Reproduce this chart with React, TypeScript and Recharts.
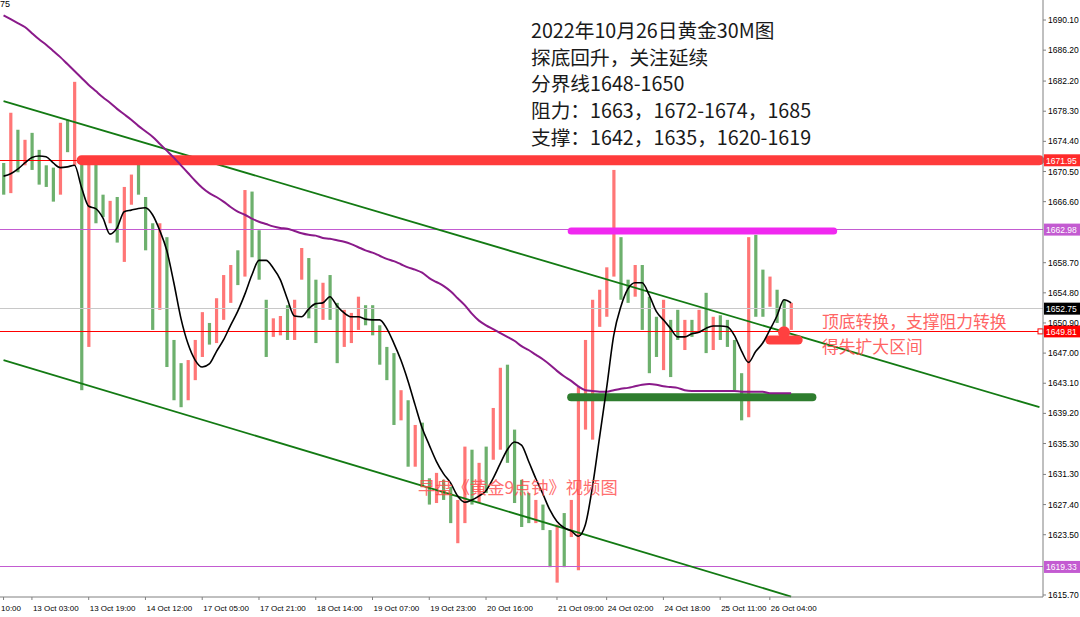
import {
  ComposedChart,
  Bar,
  Line,
  XAxis,
  YAxis,
  ReferenceLine,
  ReferenceDot,
} from "recharts"

// 2-hour bars (high / low, U = up bar, D = down bar)
const HIGH = [
  1671.6, 1678.1, 1675.9, 1674.6, 1675.5, 1673.3, 1671.3, 1671.0, 1676.8, 1677.2,
  1682.1, 1672.0, 1671.6, 1672.0, 1667.5, 1666.7, 1667.2, 1668.5, 1670.1, 1671.6,
  1667.2, 1663.8, 1663.8, 1662.0, 1648.7, 1645.7, 1646.1, 1648.7, 1652.3, 1650.9,
  1654.1, 1657.1, 1658.4, 1660.3, 1668.1, 1667.9, 1662.9, 1653.9, 1651.5, 1651.8,
  1653.2, 1653.9, 1660.6, 1659.3, 1656.5, 1656.1, 1657.1, 1653.5, 1652.6, 1652.2,
  1654.3, 1653.2, 1653.2, 1650.6, 1647.8, 1647.0, 1642.2, 1640.9, 1637.7, 1638.0,
  1630.8, 1631.5, 1630.6, 1629.7, 1628.0, 1634.9, 1634.5, 1632.8, 1634.9, 1639.9,
  1645.1, 1645.5, 1637.1, 1630.6, 1628.9, 1628.0, 1627.4, 1624.1, 1624.8, 1626.3,
  1628.0, 1642.6, 1648.7, 1653.9, 1655.2, 1658.1, 1670.7, 1662.0, 1656.5, 1658.4,
  1658.4, 1654.3, 1651.7, 1653.9, 1651.3, 1652.6, 1651.3, 1651.3, 1652.6, 1654.8,
  1651.7, 1651.9, 1651.3, 1648.7, 1644.4, 1662.0, 1662.3, 1657.8, 1656.9, 1655.2,
  1653.9, 1653.5,
]
const LOW = [
  1667.5, 1667.7, 1670.4, 1671.3, 1670.7, 1668.8, 1668.5, 1666.6, 1667.5, 1673.0,
  1671.3, 1642.2, 1647.8, 1663.8, 1664.6, 1663.8, 1661.3, 1658.8, 1666.2, 1667.5,
  1660.3, 1650.0, 1652.6, 1645.2, 1640.9, 1640.0, 1640.9, 1643.5, 1646.5, 1648.1,
  1648.3, 1651.3, 1653.5, 1655.8, 1656.9, 1659.4, 1656.5, 1646.5, 1649.1, 1649.3,
  1648.7, 1648.7, 1656.5, 1651.5, 1648.3, 1651.3, 1651.3, 1645.7, 1647.8, 1648.3,
  1650.0, 1650.6, 1649.3, 1645.5, 1643.5, 1637.7, 1638.3, 1632.3, 1632.3, 1629.7,
  1627.4, 1627.6, 1628.0, 1625.0, 1622.4, 1625.0, 1627.4, 1627.6, 1628.9, 1633.2,
  1634.5, 1632.8, 1627.6, 1624.5, 1625.0, 1625.0, 1624.1, 1619.3, 1617.3, 1619.3,
  1623.2, 1618.9, 1637.1, 1635.8, 1650.4, 1651.7, 1656.9, 1653.9, 1653.5, 1654.3,
  1650.0, 1644.4, 1646.5, 1644.8, 1643.9, 1648.7, 1647.4, 1649.1, 1649.6, 1647.0,
  1647.4, 1648.7, 1647.8, 1642.2, 1638.3, 1638.7, 1651.7, 1651.7, 1653.0, 1650.9,
  1650.4, 1650.0,
]
const DIRS =
  "DUDUDDDDUD" + "UDUDDUDUUD" + "DDUDDDUUUD" + "UUUDUDDDUU" + "DUUDDUDDUU" +
  "UDDDDDUDUD" + "DUDDUUDUDU" + "UDDDDUDDUD" + "UUUUUUUDDU" + "DDDUDDUDUD" +
  "UDDDDUDDUD" + "DU"

// black fast MA and purple slow MA
const MA_FAST = [
  1669.9, 1670.2, 1670.8, 1671.6, 1672.3, 1672.5, 1672.4, 1671.6, 1671.0, 1671.1,
  1671.3, 1668.4, 1666.0, 1665.7, 1664.5, 1662.4, 1663.2, 1665.3, 1665.5, 1665.7,
  1665.8, 1664.9, 1662.9, 1660.3, 1656.1, 1651.5, 1648.2, 1646.1, 1645.2, 1645.6,
  1647.2, 1648.7, 1650.6, 1652.4, 1654.6, 1657.1, 1659.0, 1659.0, 1658.0, 1656.5,
  1654.0, 1651.8, 1651.7, 1652.7, 1653.4, 1653.5, 1654.3, 1653.1, 1652.2, 1651.7,
  1651.7, 1651.4, 1651.3, 1651.3, 1650.2, 1648.3, 1646.1, 1643.4, 1640.3, 1637.3,
  1635.1, 1633.0, 1631.4, 1630.2, 1628.5, 1627.7, 1628.0, 1628.5, 1629.2, 1630.8,
  1632.7, 1634.5, 1635.5, 1635.1, 1633.0, 1630.8, 1628.8, 1626.7, 1625.2, 1624.4,
  1624.0, 1623.3, 1624.8, 1629.7, 1636.1, 1642.5, 1649.3, 1653.0, 1655.3, 1656.1,
  1656.1, 1654.5, 1652.4, 1651.3, 1650.2, 1649.1, 1649.1, 1649.5, 1649.7, 1650.2,
  1650.5, 1650.5, 1650.4, 1649.3, 1647.3, 1645.8, 1647.2, 1648.3, 1650.0, 1651.8,
  1653.9, 1653.5,
]
const MA_SLOW = [
  1690.7, 1690.2, 1689.7, 1689.2, 1688.4, 1687.6, 1686.9, 1686.1, 1685.3, 1684.4,
  1683.5, 1682.6, 1681.7, 1680.9, 1680.1, 1679.4, 1678.6, 1677.9, 1677.2, 1676.4,
  1675.7, 1675.0, 1674.1, 1673.2, 1672.3, 1671.3, 1670.3, 1669.3, 1668.4, 1667.7,
  1667.2, 1666.6, 1665.9, 1665.3, 1664.9, 1664.4, 1664.0, 1663.7, 1663.4, 1663.2,
  1663.1, 1662.8, 1662.5, 1662.3, 1662.2, 1661.9, 1661.8, 1661.6, 1661.4, 1661.1,
  1660.7, 1660.3, 1660.0, 1659.6, 1659.2, 1658.9, 1658.5, 1658.1, 1657.8, 1657.4,
  1656.7, 1656.2, 1655.7, 1655.0, 1654.1, 1653.2, 1652.1, 1651.2, 1650.6, 1650.1,
  1649.6, 1649.1, 1648.6, 1647.9, 1647.4, 1646.8, 1646.2, 1645.5, 1644.7, 1644.0,
  1643.4, 1642.7, 1642.2, 1642.1, 1642.0, 1642.0, 1642.2, 1642.4, 1642.5, 1642.7,
  1642.9, 1643.0, 1642.9, 1642.7, 1642.6, 1642.5, 1642.2, 1642.1, 1642.1, 1642.1,
  1642.1, 1642.1, 1642.1, 1642.1, 1642.0, 1642.0, 1642.0, 1642.0, 1641.8, 1641.8,
  1641.8, 1641.8,
]

// empty slots keep the right part of the window free, like the terminal
const SLOTS = 147

const TICK_INDEX = [0, 4, 12, 20, 28, 36, 44, 52, 60, 68, 78, 85, 93, 101, 108]
const TICK_TEXT = [
  "10:00", "13 Oct 03:00", "13 Oct 19:00", "14 Oct 12:00", "17 Oct 05:00",
  "17 Oct 21:00", "18 Oct 14:00", "19 Oct 07:00", "19 Oct 23:00", "20 Oct 16:00",
  "21 Oct 09:00", "24 Oct 02:00", "24 Oct 18:00", "25 Oct 11:00", "26 Oct 04:00",
]
const PRICE_TICKS = [
  1690.1, 1686.2, 1682.2, 1678.3, 1674.4, 1670.5, 1666.6, 1658.7, 1654.8, 1650.9,
  1647.0, 1643.1, 1639.2, 1635.3, 1631.3, 1627.4, 1623.5, 1615.7,
]

const data = Array.from({ length: SLOTS }, (_, i) => ({
  i,
  range: i < HIGH.length ? [LOW[i], HIGH[i]] : null,
  up: DIRS[i] === "U",
  fast: i < MA_FAST.length ? MA_FAST[i] : null,
  slow: i < MA_SLOW.length ? MA_SLOW[i] : null,
}))

const AXIS_FONT = "Liberation Sans, Arial, sans-serif"
const CJK_FONT = "'Noto Sans CJK SC', 'Noto Sans', sans-serif"

function PriceBar(props: any) {
  const { x, y, width, height, payload } = props
  if (!payload || !payload.range || !isFinite(y) || !isFinite(height)) return null
  const cx = x + width / 2
  const top = Math.min(y, y + height)
  const h = Math.max(Math.abs(height), 1)
  const color = payload.up ? "#ff3c3c" : "#2f8f2f"
  return <rect x={cx - 1.6} y={top} width={3.2} height={h} fill={color} fillOpacity={0.7} />
}

function TimeTick({ x, y, payload }: any) {
  const k = TICK_INDEX.indexOf(payload.value)
  if (k < 0) return null
  return (
    <text
      x={k === 0 ? 1 : x + 1}
      y={y + 9}
      textAnchor="start"
      fontSize={8}
      fontFamily={AXIS_FONT}
      fill="#000"
    >
      {TICK_TEXT[k]}
    </text>
  )
}

function PriceTag({ viewBox, priceText, boxFill, square }: any) {
  if (!viewBox) return null
  const x = viewBox.x + viewBox.width + 1
  const y = viewBox.y
  return (
    <g>
      {square && <rect x={x - 6} y={y - 2.5} width={5} height={5} fill="#fff" stroke={boxFill} />}
      <rect x={x} y={y - 6} width={36} height={12} fill={boxFill} />
      <text x={x + 2} y={y + 3.5} fontSize={8.5} fontFamily={AXIS_FONT} fill="#fff">
        {priceText}
      </text>
    </g>
  )
}

export default function App() {
  return (
    <div
      style={{
        position: "absolute",
        left: 0,
        top: 0,
        width: 1080,
        height: 617,
        background: "#fff",
        overflow: "hidden",
      }}
    >
      <ComposedChart width={1080} height={617} data={data} margin={{ top: 0, right: 0, bottom: 0, left: 0 }}>
        <XAxis
          dataKey="i"
          type="category"
          ticks={TICK_INDEX}
          interval={0}
          height={20}
          tickSize={3}
          axisLine={{ stroke: "#808080" }}
          tickLine={{ stroke: "#808080" }}
          tick={<TimeTick />}
        />
        <YAxis
          orientation="right"
          type="number"
          domain={[1615.44, 1692.69]}
          allowDataOverflow
          ticks={PRICE_TICKS}
          interval={0}
          width={37}
          tickSize={3}
          tickMargin={2}
          axisLine={{ stroke: "#808080" }}
          tickLine={{ stroke: "#808080" }}
          tick={{ fontSize: 8.5, fill: "#000", fontFamily: AXIS_FONT }}
          tickFormatter={(v: number) => v.toFixed(2)}
        />

        <Bar dataKey="range" shape={<PriceBar />} isAnimationActive={false} />

        {/* horizontal price levels */}
        <ReferenceLine y={1671.95} stroke="#ff0000" strokeWidth={1} shapeRendering="crispEdges"
          label={<PriceTag priceText="1671.95" boxFill="#ff2a2a" />} />
        <ReferenceLine y={1662.98} stroke="#c35bd1" strokeWidth={1} shapeRendering="crispEdges"
          label={<PriceTag priceText="1662.98" boxFill="#c35bd1" />} />
        <ReferenceLine y={1652.75} stroke="#c8c8c8" strokeWidth={1} shapeRendering="crispEdges"
          label={<PriceTag priceText="1652.75" boxFill="#000" />} />
        <ReferenceLine y={1649.81} stroke="#ff0000" strokeWidth={1} shapeRendering="crispEdges"
          label={<PriceTag priceText="1649.81" boxFill="#ff0000" square />} />
        <ReferenceLine y={1619.33} stroke="#c35bd1" strokeWidth={1} shapeRendering="crispEdges"
          label={<PriceTag priceText="1619.33" boxFill="#c35bd1" />} />

        {/* descending channel */}
        <ReferenceLine segment={[{ x: 0, y: 1679.6 }, { x: 146, y: 1640.0 }]}
          stroke="#137a13" strokeWidth={1.8} ifOverflow="visible" />
        <ReferenceLine segment={[{ x: 0, y: 1646.1 }, { x: 111, y: 1615.5 }]}
          stroke="#137a13" strokeWidth={1.8} ifOverflow="visible" />

        {/* hand-drawn zones */}
        <ReferenceLine segment={[{ x: 11, y: 1671.95 }, { x: 146, y: 1671.95 }]}
          stroke="#ff3b3b" strokeWidth={10} strokeLinecap="round" ifOverflow="visible" />
        <ReferenceLine segment={[{ x: 80, y: 1662.8 }, { x: 117, y: 1662.8 }]}
          stroke="#f028f0" strokeWidth={7} strokeLinecap="round" ifOverflow="visible" />
        <ReferenceLine segment={[{ x: 80, y: 1641.3 }, { x: 114, y: 1641.3 }]}
          stroke="#2e7d2e" strokeWidth={8} strokeLinecap="round" ifOverflow="visible" />
        <ReferenceLine segment={[{ x: 108, y: 1648.7 }, { x: 112, y: 1648.7 }]}
          stroke="#ff4040" strokeWidth={9} strokeLinecap="round" ifOverflow="visible" />
        <ReferenceDot x={110} y={1649.7} r={6} fill="#ff4040" stroke="none" />

        <Line dataKey="slow" type="monotone" stroke="#8a1a8a" strokeWidth={2} dot={false}
          activeDot={false} isAnimationActive={false} />
        <Line dataKey="fast" type="monotone" stroke="#000" strokeWidth={1.6} dot={false}
          activeDot={false} isAnimationActive={false} />
      </ComposedChart>

      <div style={{ position: "absolute", left: 0, top: -1, fontSize: 9, fontFamily: AXIS_FONT, color: "#000" }}>
        75
      </div>

      <div
        style={{
          position: "absolute",
          left: 531,
          top: 17,
          fontFamily: CJK_FONT,
          fontSize: 19.7,
          lineHeight: "26.7px",
          color: "#1a1a1a",
          whiteSpace: "pre",
        }}
      >
        <div>2022年10月26日黄金30M图</div>
        <div>探底回升，关注延续</div>
        <div>分界线1648-1650</div>
        <div>阻力：1663，1672-1674，1685</div>
        <div>支撑：1642，1635，1620-1619</div>
      </div>

      <div
        style={{
          position: "absolute",
          left: 418,
          top: 475,
          fontFamily: CJK_FONT,
          fontSize: 17.3,
          lineHeight: "23px",
          color: "#ff4a4a",
          opacity: 0.8,
          whiteSpace: "pre",
        }}
      >
        早盘《黄金9点钟》视频图
      </div>

      <div
        style={{
          position: "absolute",
          left: 822,
          top: 309,
          fontFamily: CJK_FONT,
          fontSize: 16.8,
          lineHeight: "24.5px",
          color: "#ff4a4a",
          opacity: 0.85,
          whiteSpace: "pre",
        }}
      >
        <div>顶底转换，支撑阻力转换</div>
        <div>得失扩大区间</div>
      </div>
    </div>
  )
}
